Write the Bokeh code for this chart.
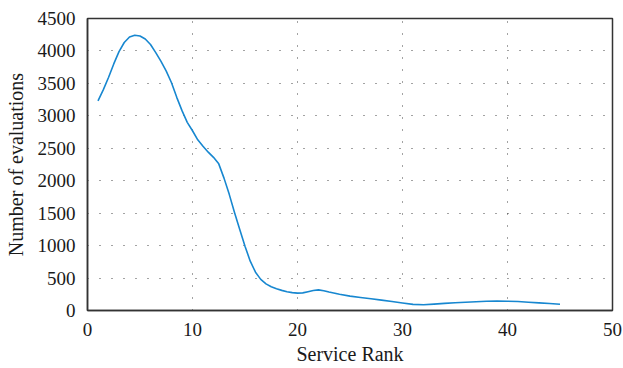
from bokeh.plotting import figure
from bokeh.models import Range1d, FixedTicker
from bokeh.embed import file_html
from bokeh.resources import INLINE

# Data
service_rank = [1, 1.5, 2, 2.5, 3, 3.5, 4, 4.5, 5, 5.5, 6, 6.5, 7, 7.5, 8, 8.5, 9, 9.5,
                10, 10.5, 11, 11.5, 12, 12.5, 13, 13.5, 14, 14.5, 15, 15.5,
                16, 16.5, 17, 17.5, 18, 18.5, 19, 19.5, 20, 20.5, 21, 21.5, 22, 22.5, 23,
                24, 25, 26, 27, 28, 29, 30, 31, 32, 33,
                34, 35, 36, 37, 38, 39, 40, 41, 42, 43, 44, 45]
evaluations = [3230, 3400, 3590, 3800, 3990, 4130, 4215, 4242, 4230, 4185, 4100, 3975, 3840,
               3690, 3510, 3285, 3080, 2900, 2770, 2630, 2530, 2440, 2360, 2260,
               2040, 1790, 1510, 1250, 990, 760,
               590, 480, 410, 365, 335, 310, 290, 275, 268, 272, 290, 308, 318, 305, 285,
               250, 222, 200, 180, 160, 138, 115, 95, 88, 98,
               110, 120, 128, 135, 142, 145, 143, 138, 128, 118, 108, 97]
x_ticks = [0, 10, 20, 30, 40, 50]
y_ticks = [0, 500, 1000, 1500, 2000, 2500, 3000, 3500, 4000, 4500]

FONT = "Liberation Serif"

p = figure(width=623, height=368, output_backend="svg", toolbar_location=None,
           x_range=Range1d(0, 50), y_range=Range1d(0, 4500),
           min_border_left=87, min_border_right=11, min_border_top=18, min_border_bottom=58)

p.line(service_rank, evaluations, line_color="#1787d0", line_width=1.6,
       line_join="round")

p.xaxis.ticker = FixedTicker(ticks=x_ticks)
p.yaxis.ticker = FixedTicker(ticks=y_ticks)
p.xaxis.axis_label = "Service Rank"
p.yaxis.axis_label = "Number of evaluations"

for ax in (p.xaxis, p.yaxis):
    ax.axis_label_text_font = FONT
    ax.axis_label_text_font_style = "normal"
    ax.axis_label_text_font_size = "20px"
    ax.axis_label_text_color = "#1a1a1a"
    ax.major_label_text_font = FONT
    ax.major_label_text_font_size = "19px"
    ax.major_label_text_color = "#1a1a1a"
    ax.major_tick_line_color = None
    ax.minor_tick_line_color = None
    ax.axis_line_color = "#333333"
    ax.axis_line_width = 1.5
    ax.major_label_standoff = 6

p.xaxis.axis_label_standoff = 4
p.yaxis.axis_label_standoff = 8

p.outline_line_color = "#333333"
p.outline_line_width = 1.5
p.outline_line_alpha = 1

for g in (p.xgrid, p.ygrid):
    g.grid_line_color = "#333333"
    g.grid_line_width = 1
    g.grid_line_dash = "1 11"
    g.grid_line_alpha = 0.9

p.background_fill_color = "white"
p.border_fill_color = "white"

open("out.html", "w").write(file_html(p, INLINE))
